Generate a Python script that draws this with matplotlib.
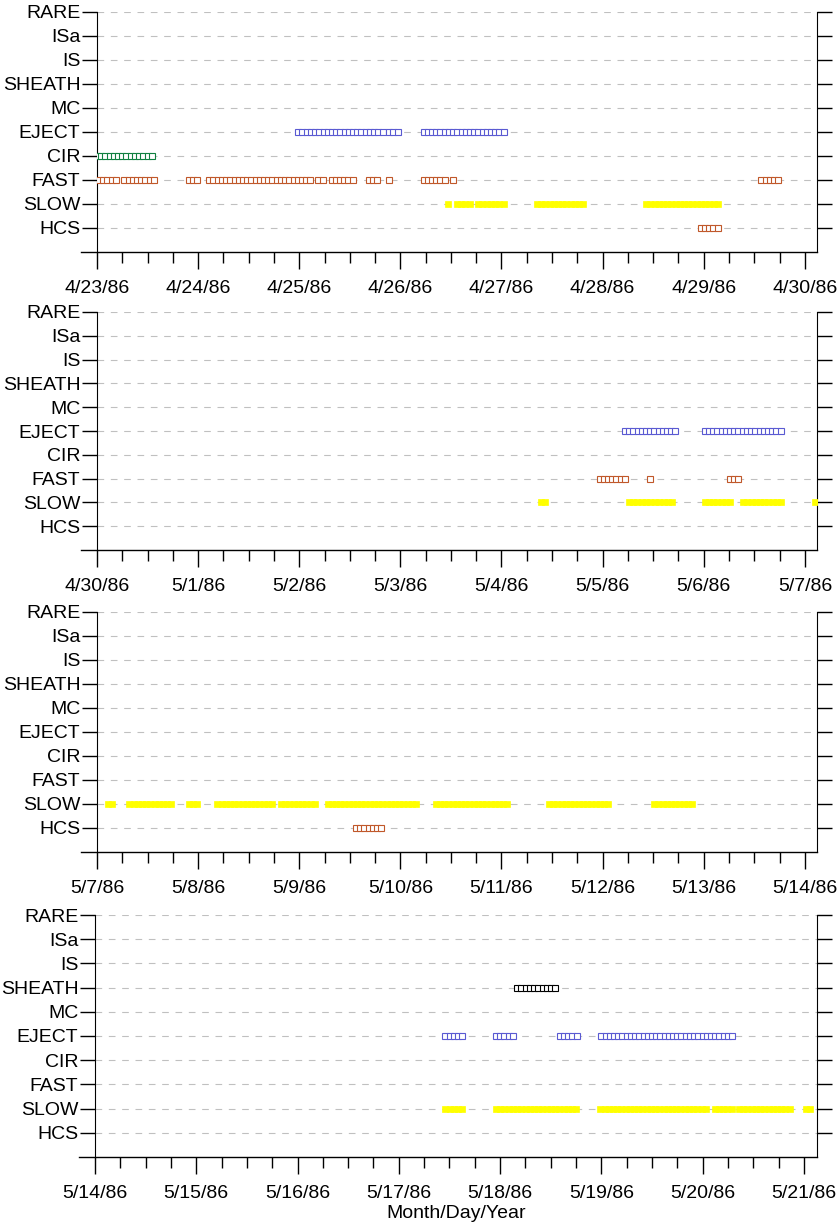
import numpy as np
import matplotlib
matplotlib.use("Agg")
import matplotlib.pyplot as plt
import datetime as dt

plt.rcParams['font.family'] = ['Liberation Sans', 'DejaVu Sans']

categories = ['HCS', 'SLOW', 'FAST', 'CIR', 'EJECT', 'MC', 'SHEATH', 'IS', 'ISa', 'RARE']
panel_starts = ['1986-04-23', '1986-04-30', '1986-05-07', '1986-05-14']

# intervals in days since panel start
panels = [
    {'EJECT': [(1.99, 2.85), (2.89, 2.98), (3.23, 4.06)],
     'CIR': [(0.0, 0.57)],
     'FAST': [(0.02, 0.19), (0.27, 0.57), (0.91, 1.02), (1.11, 2.14), (2.19, 2.27), (2.32, 2.55),
              (2.69, 2.81), (2.89, 2.93), (3.23, 3.46), (3.52, 3.55), (6.57, 6.76)],
     'SLOW': [(3.47, 3.51), (3.56, 3.72), (3.77, 4.06), (4.35, 4.82), (5.43, 6.17)],
     'HCS': [(5.97, 6.17)]},
    {'EJECT': [(5.22, 5.72), (6.01, 6.80)],
     'FAST': [(4.97, 5.26), (5.47, 5.51), (6.26, 6.38)],
     'SLOW': [(4.39, 4.47), (5.26, 5.47), (5.52, 5.72), (6.01, 6.27), (6.39, 6.80), (7.10, 7.13)]},
    {'SLOW': [(0.11, 0.19), (0.32, 0.77), (0.91, 1.03), (1.19, 1.77), (1.82, 2.19), (2.28, 3.18),
              (3.35, 4.06), (4.47, 4.85), (4.89, 5.09), (5.51, 5.89)],
     'HCS': [(2.56, 2.81)]},
    {'EJECT': [(3.46, 3.66), (3.96, 4.16), (4.59, 4.78), (5.00, 6.32)],
     'SHEATH': [(4.17, 4.58)],
     'SLOW': [(3.46, 3.66), (3.96, 4.78), (4.99, 6.07), (6.12, 6.32), (6.36, 6.58), (6.61, 6.89), (7.02, 7.10)]},
]

colors = {'EJECT': '#5a5ad2', 'CIR': '#108040', 'FAST': '#c0582a', 'HCS': '#c0582a',
          'SHEATH': '#000000', 'SLOW': '#ffff00'}

W, H = 838, 1226
fig = plt.figure(figsize=(W/100, H/100), dpi=100)
boxes = [(12, 252), (312, 550), (612, 852), (915, 1157)]
lefts = [97, 97, 97, 95]

for i, (pdata, start) in enumerate(zip(panels, panel_starts)):
    t0, t1 = boxes[i]
    l = lefts[i]
    ax = fig.add_axes([l/W, 1 - t1/H, (817-l)/W, (t1-t0)/H])
    s = dt.datetime.fromisoformat(start)
    for cat, ivs in pdata.items():
        y = categories.index(cat) + 1
        for a, b in ivs:
            x = np.arange(a, b + 1e-6, 1/24)
            if cat == 'SLOW':
                ax.plot(x, np.full_like(x, y), 's', ms=5, mfc=colors[cat], mec=colors[cat], mew=0.5, zorder=3)
            else:
                ax.plot(x, np.full_like(x, y), 's', ms=4, mfc='white', mec=colors[cat], mew=0.8, zorder=3)
    xmax = 7.12 if i < 3 else 7.13
    ax.set_xlim(0, xmax)
    ax.set_ylim(0, 10)
    ax.set_yticks(range(1, 11))
    ax.set_yticklabels(categories, fontsize=14)
    for y in range(1, 11):
        ax.axhline(y, color='#c0c0c0', lw=0.8, ls=(0, (6, 6)), zorder=1)
    ax.set_xticks(range(0, 8))
    ax.set_xticklabels([(s + dt.timedelta(days=k)).strftime('%-m/%-d/%y') for k in range(8)], fontsize=14)
    ax.set_xticks(np.arange(0, 7.13, 0.25), minor=True)
    ax.tick_params(axis='x', which='major', length=12, width=1, direction='out', pad=8)
    ax.tick_params(axis='x', which='minor', length=8, width=1, direction='out')
    ax.tick_params(axis='y', which='major', length=11, width=1, direction='out', right=True, pad=1)
    ax.spines['top'].set_visible(False)
    ax.spines['bottom'].set_visible(False)
    ax.plot([-0.16, xmax], [0, 0], color='black', lw=1, zorder=2, clip_on=False)
    if i == 3:
        ax.set_xlabel('Month/Day/Year', fontsize=14, labelpad=2)

fig.savefig('out.png', dpi=100)
